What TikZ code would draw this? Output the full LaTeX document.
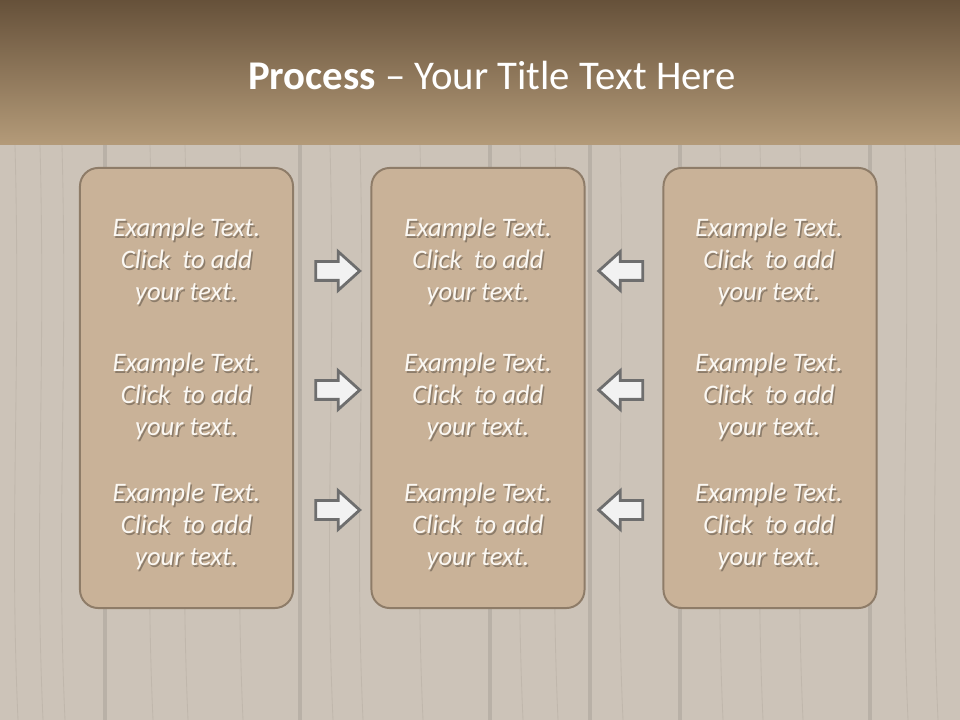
\documentclass[tikz,border=0pt]{standalone}
\usepackage{fontspec}
\setmainfont{Carlito}
\usepackage{xcolor}
\usetikzlibrary{positioning, shapes.arrows, calc}

\definecolor{headtop}{HTML}{66513A}
\definecolor{headbot}{HTML}{B49B79}
\definecolor{woodbase}{HTML}{CCC3B8}
\definecolor{woodseam}{HTML}{B9B1A7}
\definecolor{woodgrain}{HTML}{C0B7AC}
\definecolor{panelfill}{HTML}{C9B298}
\definecolor{panelline}{HTML}{8E7C68}
\definecolor{arrowfill}{HTML}{F2F2F2}
\definecolor{arrowline}{HTML}{6E6E6E}
\definecolor{textwhite}{HTML}{FBF8F3}

\tikzset{
  panel/.style={draw=panelline, fill=panelfill, line width=1.4pt, rounded corners=13pt,
    minimum width=5.325cm, minimum height=11cm},
  blocktext/.style={align=center, text=textwhite, font=\fontsize{19}{22.8}\selectfont\itshape},
  blockshadow/.style={align=center, text=black, opacity=0.3, font=\fontsize{19}{22.8}\selectfont\itshape},
  blockarrow/.style={single arrow, draw=arrowline, fill=arrowfill, line width=2pt,
    inner sep=0.2cm, minimum height=1.1cm, single arrow head extend=0.25cm,
    single arrow tip angle=84}
}

\begin{document}
\begin{tikzpicture}[x=0.025cm, y=-0.025cm]
  \useasboundingbox (0,0) rectangle (960,720);

  % wood background
  \fill[woodbase] (0,145) rectangle (960,720);
  \foreach \x in {15,40,62,150,185,240,330,360,420,520,555,620,720,760,800,905,935} {
    \draw[woodgrain, line width=0.6pt] (\x,145) .. controls (\x+6,380) and (\x-6,520) .. (\x+3,720);
  }
  \foreach \x in {105,300,490,590,680,870} {
    \draw[woodseam, line width=2.5pt] (\x,145) -- (\x,720);
  }

  % header
  \shade[top color=headtop, bottom color=headbot] (0,0) rectangle (960,145);
  \node[text=white, font=\fontsize{29}{34}\selectfont] (title) at (492,75)
    {\textbf{Process} -- Your Title Text Here};

  % panels
  \node[panel] (left) at (186.5,388) {};
  \node[panel] (mid) at (478,388) {};
  \node[panel] (right) at (770,388) {};

  % texts
  \foreach \p/\x in {left/186.5, mid/478, right/769} {
    \foreach \r/\y in {1/261, 2/396, 3/526} {
      \node[blockshadow] at (\x+1.5,\y+2.5) {Example Text.\\Click\ \ to add\\your text.};
      \node[blocktext] (\p\r) at (\x,\y) {Example Text.\\Click\ \ to add\\your text.};
    }
  }

  % arrows
  \foreach \r/\y in {1/271, 2/390, 3/510} {
    \node[blockarrow] (ra\r) at (332.5,\y) {};
    \node[blockarrow, shape border rotate=180] (la\r) at (626,\y) {};
  }
\end{tikzpicture}
\end{document}
